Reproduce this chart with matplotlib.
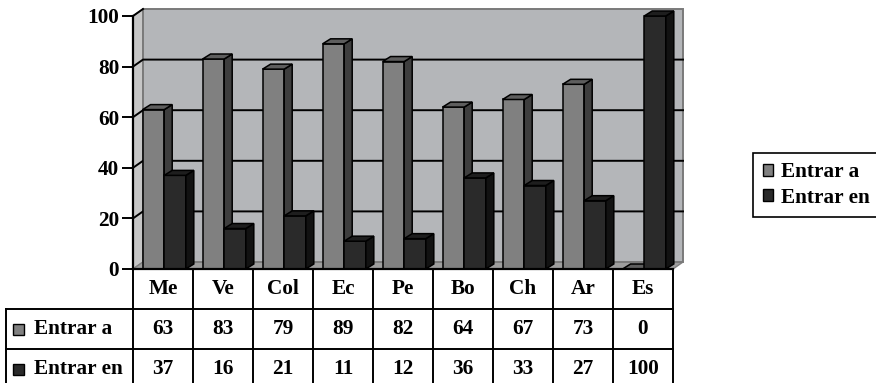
import matplotlib
matplotlib.use("Agg")
import matplotlib.pyplot as plt
from matplotlib.patches import Polygon, Rectangle, Patch

plt.rcParams["font.family"] = "serif"
plt.rcParams["font.serif"] = ["Liberation Serif", "DejaVu Serif"]
plt.rcParams["font.weight"] = "bold"

# data
countries = ["Me", "Ve", "Col", "Ec", "Pe", "Bo", "Ch", "Ar", "Es"]
entrar_a = [63, 83, 79, 89, 82, 64, 67, 73, 0]
entrar_en = [37, 16, 21, 11, 12, 36, 33, 27, 100]
series_names = ["Entrar a", "Entrar en"]
y_ticks = [0, 20, 40, 60, 80, 100]

# face colours per series: front, side, top
GRAY = ("#808080", "#3e3e3e", "#5e5e5e")
DARK = ("#2a2a2a", "#121212", "#1e1e1e")
FS = 15.3

W, H = 876, 383
fig = plt.figure(figsize=(W / 100, H / 100), dpi=100)
ax = fig.add_axes([133 / W, 1 - 269 / H, 540 / W, 253 / H])
n = len(countries)
ax.set_xlim(0, n)
ax.set_ylim(0, 100)
ax.set_facecolor("none")

ppx = 540 / n      # pixels per category
ppy = 253 / 100    # pixels per value unit


def depth(dx_px, dy_px):
    """pixel offset (right, up) -> data offset"""
    return dx_px / ppx, dy_px / ppy


# walls and floor
wx, wy = depth(10, 7)
ax.add_patch(Polygon([(0, 0), (0, 100), (wx, 100 + wy), (wx, wy)],
                     fc="#c6c6c6", ec="#808080", lw=1, clip_on=False, zorder=0))
ax.add_patch(Polygon([(0, 0), (n, 0), (n + wx, wy), (wx, wy)],
                     fc="#9e9e9e", ec="#808080", lw=1, clip_on=False, zorder=0))
ax.add_patch(Rectangle((wx, wy), n, 100, fc="#b4b6b9", ec="#7a7a7a", lw=1.4,
                       clip_on=False, zorder=0))
for v in y_ticks[1:-1]:
    ax.plot([0, wx, n + wx], [v, v + wy, v + wy], color="black", lw=1.4,
            clip_on=False, zorder=1)
ax.plot([0, wx], [100, 100 + wy], color="black", lw=1.4, clip_on=False, zorder=1)

# 3d bars
bar_w = 0.36
bx, by = depth(8, 5)


def box(x0, h, cols, z):
    front, side, top = cols
    kw = dict(ec="black", lw=1.1, clip_on=False, zorder=z)
    ax.add_patch(Rectangle((x0, 0), bar_w, h, fc=front, **kw))
    ax.add_patch(Polygon([(x0 + bar_w, 0), (x0 + bar_w + bx, by),
                          (x0 + bar_w + bx, h + by), (x0 + bar_w, h)], fc=side, **kw))
    ax.add_patch(Polygon([(x0, h), (x0 + bx, h + by),
                          (x0 + bar_w + bx, h + by), (x0 + bar_w, h)], fc=top, **kw))


for i in range(n):
    box(i + 0.16, entrar_a[i], GRAY, 2 + 2 * i)
    box(i + 0.16 + bar_w, entrar_en[i], DARK, 3 + 2 * i)

# axes
ax.set_xticks([])
ax.set_yticks(y_ticks)
ax.tick_params(axis="y", direction="out", length=8, width=1.4, pad=2, labelsize=FS)
for s in ("top", "right"):
    ax.spines[s].set_visible(False)
for s in ("left", "bottom"):
    ax.spines[s].set_linewidth(1.6)
    ax.spines[s].set_zorder(40)

# data table under the plot
row_h = 40 / ppy
label_x = -(133 - 6) / ppx
tkw = dict(color="black", lw=1.4, clip_on=False, zorder=40)
for k in range(n + 1):
    ax.plot([k, k], [0, -3 * row_h], **tkw)
for r in (1, 2, 3):
    ax.plot([label_x, n], [-r * row_h, -r * row_h], **tkw)
ax.plot([label_x, label_x], [-row_h, -3 * row_h], **tkw)

for i, c in enumerate(countries):
    ax.text(i + 0.5, -0.5 * row_h, c, ha="center", va="center", fontsize=FS,
            clip_on=False)
    ax.text(i + 0.5, -1.5 * row_h, str(entrar_a[i]), ha="center", va="center",
            fontsize=FS, clip_on=False)
    ax.text(i + 0.5, -2.5 * row_h, str(entrar_en[i]), ha="center", va="center",
            fontsize=FS, clip_on=False)

sq_x = (13 - 133) / ppx
for r, (name, col) in enumerate(zip(series_names, (GRAY[0], DARK[0]))):
    yc = -(1.5 + r) * row_h
    ax.add_patch(Rectangle((sq_x, yc - 5.5 / ppy), 11 / ppx, 11 / ppy, fc=col,
                           ec="black", lw=1, clip_on=False, zorder=40))
    ax.text((34 - 133) / ppx, yc, name, ha="left", va="center", fontsize=FS,
            clip_on=False)

# legend
handles = [Patch(fc=GRAY[0], ec="black"), Patch(fc=DARK[0], ec="black")]
leg = fig.legend(handles, series_names, loc="center left",
                 bbox_to_anchor=(753 / W, 1 - 185 / H), frameon=True,
                 fancybox=False, edgecolor="black", framealpha=1,
                 prop={"size": FS, "weight": "bold"}, handlelength=0.5,
                 handleheight=0.5, handletextpad=0.35, labelspacing=0.25,
                 borderpad=0.45, borderaxespad=0)
leg.get_frame().set_linewidth(1.2)

fig.savefig("out.png", dpi=100)
